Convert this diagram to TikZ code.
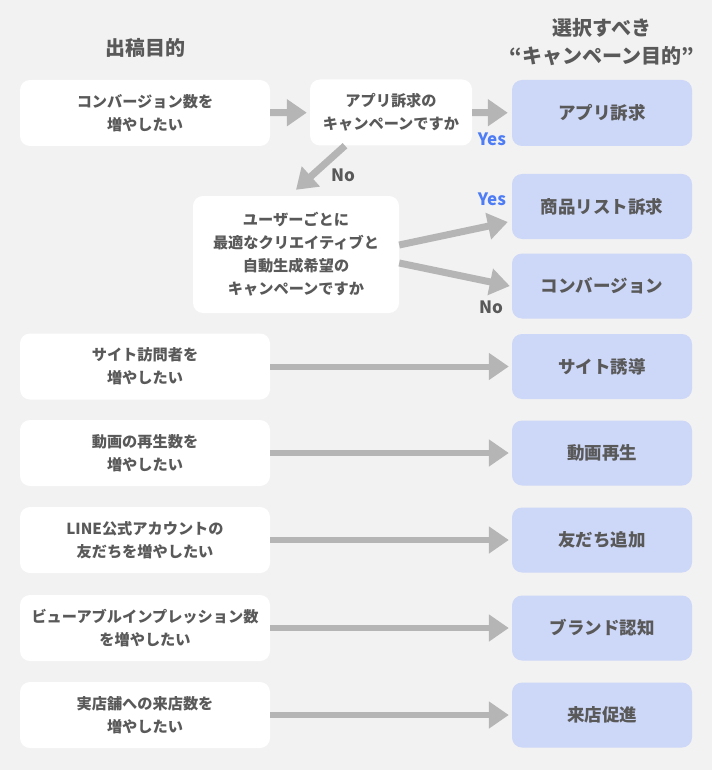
\documentclass[tikz,border=0pt]{standalone}
\usepackage{fontspec}
\setmainfont{Noto Sans CJK JP}
\usetikzlibrary{arrows.meta,positioning,calc}
\definecolor{FlowBg}{HTML}{F2F2F2}
\definecolor{FlowText}{HTML}{595959}
\definecolor{FlowTarget}{HTML}{CDD7F7}
\definecolor{FlowArrow}{HTML}{B5B5B5}
\definecolor{FlowYes}{HTML}{4D7CF5}

\begin{document}
\begin{tikzpicture}[x=1pt,y=-1pt]
    \tikzset{goalbox/.style={rounded corners=10pt,fill=white,minimum width=250pt,minimum height=66pt,
      align=center,inner sep=0pt,text=FlowText,font=\fontsize{15.2}{23}\selectfont\bfseries},
      targetbox/.style={rounded corners=10pt,fill=FlowTarget,minimum width=180pt,minimum height=65pt,
      align=center,inner sep=0pt,text=FlowText,font=\fontsize{17.5}{22}\selectfont\bfseries},
      flow/.style={FlowArrow,line width=7pt,-{Triangle[length=20pt,width=26pt]}},
      answer/.style={text=FlowText,font=\fontsize{17}{20}\selectfont\bfseries}}
    \fill[FlowBg] (0,0) rectangle (712,770);
    \node[text=FlowText,font=\fontsize{20}{28}\selectfont\bfseries] (ha) at (145,48) {出稿目的};
    \node[text=FlowText,font=\fontsize{20}{28}\selectfont\bfseries,align=center] (hb) at (602,42) {選択すべき\\“キャンペーン目的”};
    % question chain
    \node[goalbox] (conv) at (145,113) {コンバージョン数を\\増やしたい};
    \node[goalbox,minimum width=162pt] (appq) at (391,112.5) {アプリ訴求の\\キャンペーンですか};
    \node[goalbox,minimum width=206pt,minimum height=117pt] (autoq) at (296,254.5) {ユーザーごとに\\最適なクリエイティブと\\自動生成希望の\\キャンペーンですか};
    \node[targetbox,minimum height=66pt] (app) at (602,113) {アプリ訴求};
    \node[targetbox] (list) at (602,206.5) {商品リスト訴求};
    \node[targetbox] (cv) at (602,286) {コンバージョン};
    \draw[flow,shorten >=3pt] (conv) -- (appq);
    \draw[flow,shorten >=4pt] (appq) -- (app);
    \draw[flow] ([xshift=-46pt]appq.south) -- ([yshift=6pt]autoq.north);
    \draw[flow] ([yshift=9.5pt]autoq.east) -- ([xshift=-4pt,yshift=-15.5pt]list.west);
    \draw[flow] ([yshift=-8.5pt]autoq.east) -- ([xshift=-2pt]cv.west);
    \node[answer,text=FlowYes] (yes1) at (492,139) {Yes};
    \node[answer] (no1) at (343,175) {No};
    \node[answer,text=FlowYes] (yes2) at (492,199) {Yes};
    \node[answer] (no2) at (491,307) {No};
    % one to one rows
    \node[goalbox] (site) at (145,366.5) {サイト訪問者を\\増やしたい};
    \node[goalbox] (video) at (145,453) {動画の再生数を\\増やしたい};
    \node[goalbox] (line) at (145,540) {LINE公式アカウントの\\友だちを増やしたい};
    \node[goalbox] (imp) at (145,628) {ビューアブルインプレッション数\\を増やしたい};
    \node[goalbox] (store) at (145,715) {実店舗への来店数を\\増やしたい};
    \node[targetbox] (sitet) at (602,366.5) {サイト誘導};
    \node[targetbox] (videot) at (602,453) {動画再生};
    \node[targetbox] (linet) at (602,540) {友だち追加};
    \node[targetbox] (impt) at (602,628) {ブランド認知};
    \node[targetbox] (storet) at (602,715) {来店促進};
    \draw[flow,line width=6pt,shorten >=3pt] (site) -- (sitet);
    \draw[flow,line width=6pt,shorten >=3pt] (video) -- (videot);
    \draw[flow,line width=6pt,shorten >=3pt] (line) -- (linet);
    \draw[flow,line width=6pt,shorten >=3pt] (imp) -- (impt);
    \draw[flow,line width=6pt,shorten >=3pt] (store) -- (storet);
\end{tikzpicture}
\end{document}
